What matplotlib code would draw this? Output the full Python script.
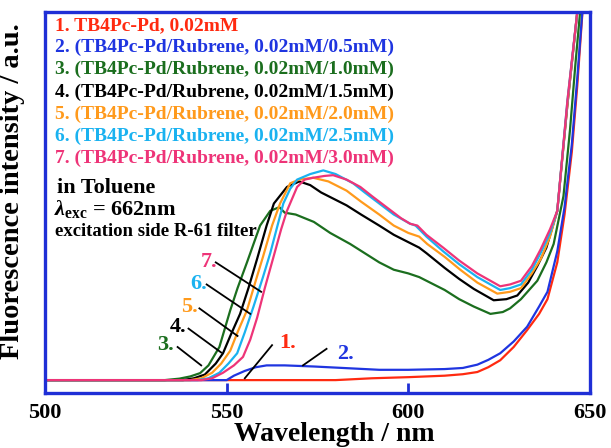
import numpy as np
import matplotlib
matplotlib.use("Agg")
import matplotlib.pyplot as plt

plt.rcParams['font.family'] = ['Liberation Serif', 'DejaVu Serif']
plt.rcParams['font.weight'] = 'bold'
plt.rcParams['mathtext.fontset'] = 'custom'
plt.rcParams['mathtext.rm'] = 'Liberation Serif:bold'
plt.rcParams['mathtext.it'] = 'Liberation Serif:italic:bold'
plt.rcParams['mathtext.bf'] = 'Liberation Serif:bold'

# spectra (wavelength nm, intensity a.u.)
wl_1 = [500, 580, 590, 600, 610, 615, 619, 622, 625.3, 629, 632.7, 636, 638.3, 641, 643, 645, 646.5, 648.5]
in_1 = [0, 0, 0.005, 0.008, 0.012, 0.016, 0.022, 0.035, 0.054, 0.09, 0.136, 0.18, 0.22, 0.32, 0.45, 0.62, 0.8, 1.08]

wl_2 = [500, 550, 552, 555, 558, 561, 566, 574, 582, 592, 600, 610, 615, 619, 622, 625.3, 629, 632.7, 636, 638.3, 641, 643, 645, 646.5, 648.5]
in_2 = [0, 0, 0.012, 0.025, 0.035, 0.04, 0.04, 0.037, 0.033, 0.028, 0.028, 0.03, 0.033, 0.042, 0.055, 0.073, 0.105, 0.145, 0.2, 0.24, 0.35, 0.47, 0.64, 0.82, 1.08]

wl_3 = [500, 533, 537, 540, 542.7, 545, 548, 551, 553, 555.6, 559.2, 562, 564.5, 566, 569, 574, 578.5, 584, 588, 592, 596, 600, 603, 605, 610, 614, 618, 622.6, 626, 628, 631, 635.5, 638, 640, 642.7, 644.5, 646, 648]
in_3 = [0, 0, 0.004, 0.01, 0.019, 0.04, 0.09, 0.19, 0.25, 0.32, 0.42, 0.46, 0.47, 0.455, 0.45, 0.43, 0.40, 0.37, 0.345, 0.32, 0.3, 0.29, 0.28, 0.27, 0.245, 0.22, 0.2, 0.18, 0.185, 0.195, 0.22, 0.27, 0.32, 0.37, 0.5, 0.68, 0.86, 1.08]

wl_4 = [500, 538, 541, 544, 547, 549, 551, 553.7, 556, 558.4, 561, 563, 566.6, 570, 573, 576, 580, 583, 587, 592, 596, 600, 603, 605, 610, 614, 618, 623.5, 627, 630, 633, 635.5, 638, 641, 643.8, 646.5, 648]
in_4 = [0, 0, 0.005, 0.015, 0.045, 0.073, 0.12, 0.18, 0.25, 0.33, 0.42, 0.48, 0.525, 0.54, 0.53, 0.51, 0.49, 0.475, 0.45, 0.42, 0.395, 0.375, 0.36, 0.345, 0.305, 0.275, 0.248, 0.217, 0.22, 0.23, 0.265, 0.31, 0.36, 0.46, 0.75, 1.0, 1.08]

wl_5 = [500, 540, 543, 546, 548.5, 551, 553, 555.6, 558, 560, 562.5, 564.7, 567.5, 570, 573.8, 578, 583, 587, 592, 596, 600, 603, 605.2, 610, 614.3, 619, 624.5, 628, 631, 634, 636.5, 639, 641, 643.8, 646.5, 648]
in_5 = [0, 0, 0.005, 0.02, 0.045, 0.08, 0.13, 0.19, 0.27, 0.335, 0.42, 0.48, 0.535, 0.545, 0.55, 0.54, 0.515, 0.485, 0.45, 0.42, 0.4, 0.39, 0.37, 0.335, 0.30, 0.265, 0.235, 0.24, 0.25, 0.29, 0.33, 0.39, 0.46, 0.75, 1.0, 1.08]

wl_6 = [500, 542, 545, 548, 550.5, 552.9, 555, 557.4, 560, 562, 564, 565.6, 567.5, 569.4, 573, 576.6, 580, 584.8, 588, 592, 596, 600.5, 602, 605, 609.6, 614, 619, 625.3, 628, 631, 634, 636.4, 639, 641, 643.8, 646.5, 648]
in_6 = [0, 0, 0.005, 0.02, 0.045, 0.073, 0.13, 0.2, 0.28, 0.345, 0.42, 0.48, 0.52, 0.545, 0.56, 0.57, 0.56, 0.535, 0.51, 0.48, 0.45, 0.425, 0.42, 0.39, 0.35, 0.315, 0.28, 0.245, 0.25, 0.26, 0.3, 0.345, 0.4, 0.46, 0.76, 1.0, 1.08]

wl_7 = [500, 543, 546, 549, 552, 554.5, 556.5, 558.4, 560.5, 562.9, 565, 566.6, 569.4, 571.5, 573.8, 577, 579.3, 583, 586.8, 590, 594, 598, 600.5, 602.5, 605, 609.6, 614, 619, 625.3, 628, 631, 634, 636.4, 639, 641, 643.8, 646.5, 648]
in_7 = [0, 0, 0.005, 0.02, 0.04, 0.063, 0.11, 0.17, 0.25, 0.335, 0.41, 0.46, 0.525, 0.545, 0.55, 0.555, 0.557, 0.545, 0.525, 0.5, 0.47, 0.44, 0.425, 0.42, 0.395, 0.36, 0.325, 0.29, 0.255, 0.26, 0.27, 0.31, 0.355, 0.41, 0.46, 0.76, 1.0, 1.08]

labels = ["1. TB4Pc-Pd, 0.02mM",
          "2. (TB4Pc-Pd/Rubrene, 0.02mM/0.5mM)",
          "3. (TB4Pc-Pd/Rubrene, 0.02mM/1.0mM)",
          "4. (TB4Pc-Pd/Rubrene, 0.02mM/1.5mM)",
          "5. (TB4Pc-Pd/Rubrene, 0.02mM/2.0mM)",
          "6. (TB4Pc-Pd/Rubrene, 0.02mM/2.5mM)",
          "7. (TB4Pc-Pd/Rubrene, 0.02mM/3.0mM)"]
colors = ['#ff2a10', '#1f35e0', '#1b6e1e', '#000000', '#ff9a1c', '#1ab2f0', '#ee3478']
frame_blue = '#1f2fd6'

fig = plt.figure(figsize=(6.11, 4.48), dpi=100)
ax = fig.add_axes([0.0736, 0.1228, 0.892, 0.850])

series = [(wl_1, in_1), (wl_2, in_2), (wl_3, in_3), (wl_4, in_4),
          (wl_5, in_5), (wl_6, in_6), (wl_7, in_7)]
for (w, v), c in zip(series, colors):
    ax.plot(w, v, color=c, lw=1.6)

ax.set_xlim(500, 650)
ax.set_ylim(-0.035, 1.0)
ax.set_xticks([500, 550, 600, 650])
ax.set_yticks([])
ax.tick_params(axis='x', direction='in', length=7, width=2, color=frame_blue,
               labelsize=16, pad=7)
for s in ax.spines.values():
    s.set_color(frame_blue)
    s.set_linewidth(2.4)
ax.set_xlabel("Wavelength / nm", fontsize=20, fontweight='bold')
ax.xaxis.set_label_coords(0.530, -0.077)
ax.set_ylabel("Fluorescence intensity / a.u.", fontsize=20.5, fontweight='bold')
ax.yaxis.set_label_coords(-0.036, 0.53)

# legend text block
for i, (lab, c) in enumerate(zip(labels, colors)):
    ax.text(0.018, 0.965 - i * 0.0582, lab, color=c, fontsize=14, fontweight='bold',
            transform=ax.transAxes, va='center', ha='left')

ax.text(0.022, 0.537, "in Toluene", fontsize=16, fontweight='bold', transform=ax.transAxes, va='center')
ax.text(0.016, 0.484, r"$\lambda_{\rm exc}$ = 662nm", fontsize=16, fontweight='bold', transform=ax.transAxes, va='center')
ax.text(0.018, 0.424, "excitation side R-61 filter", fontsize=13.5, fontweight='bold', transform=ax.transAxes, va='center')

# curve markers with leader lines (numbers placed in data coordinates)
num_pos = [(564.5, 0.10), (580.5, 0.07), (535.5, 0.095), (539, 0.145), (542, 0.20), (544.5, 0.26), (547.5, 0.32)]
line_start = [(562.5, 0.095), (577.5, 0.085), (536.5, 0.09), (539.5, 0.14), (542.5, 0.195), (544.5, 0.26), (547, 0.32)]
line_end = [(555, 0.005), (571, 0.04), (543, 0.04), (548.5, 0.075), (553, 0.12), (556.5, 0.18), (559.5, 0.24)]
for i in range(7):
    ax.plot([line_start[i][0], line_end[i][0]], [line_start[i][1], line_end[i][1]], color='black', lw=1.3)
    ax.text(num_pos[i][0], num_pos[i][1], f"{i + 1}.", color=colors[i], fontsize=16, fontweight='bold',
            ha='right' if i >= 2 else 'left', va='center')

fig.savefig("out.png", dpi=100)
